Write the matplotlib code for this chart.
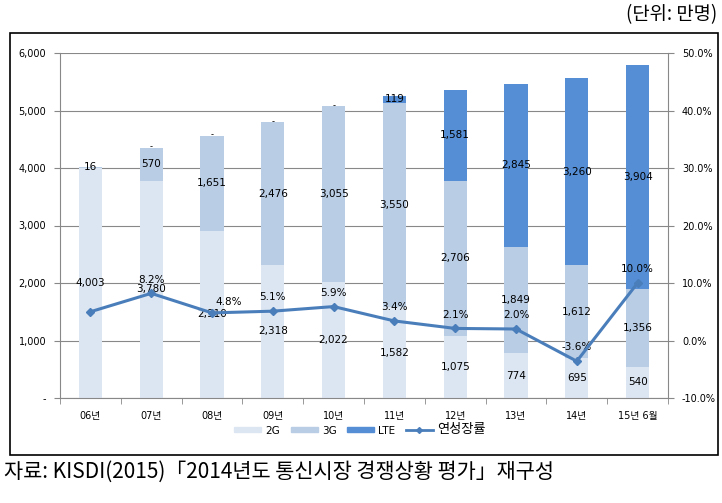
import matplotlib.pyplot as plt
from matplotlib.patches import Rectangle
from matplotlib.lines import Line2D
import numpy as np

plt.rcParams['font.family'] = ['DejaVu Sans', 'Noto Sans CJK KR']

# data (만명)
categories = ["06년", "07년", "08년", "09년", "10년", "11년", "12년", "13년", "14년", "15년 6월"]
g2 = [4003, 3780, 2910, 2318, 2022, 1582, 1075, 774, 695, 540]
g3 = [16, 570, 1651, 2476, 3055, 3550, 2706, 1849, 1612, 1356]
lte = [0, 0, 0, 0, 0, 119, 1581, 2845, 3260, 3904]
growth = [5.0, 8.2, 4.8, 5.1, 5.9, 3.4, 2.1, 2.0, -3.6, 10.0]

c2g = "#DCE6F2"
c3g = "#B9CDE5"
clte = "#558ED5"
cline = "#4A7EBB"

fig = plt.figure(figsize=(7.22, 5.03), dpi=100)

# outer chart box
fig.patches.append(Rectangle((10 / 722, 1 - 455 / 503), 708 / 722, 422 / 503,
                             transform=fig.transFigure, fill=False,
                             edgecolor="black", linewidth=1.2))

ax = fig.add_axes([60 / 722, 1 - 398 / 503, 608 / 722, 345 / 503])
x = np.arange(len(categories))
w = 0.38
ax.bar(x, g2, w, color=c2g, zorder=2)
ax.bar(x, g3, w, bottom=g2, color=c3g, zorder=2)
base = np.array(g2) + np.array(g3)
ax.bar(x, lte, w, bottom=base, color=clte, zorder=2)

ax.set_xlim(-0.5, len(categories) - 0.5)
ax.set_ylim(0, 6000)
ax.set_yticks(range(0, 6001, 1000))
ax.set_yticklabels(["-"] + [f"{v:,}" for v in range(1000, 6001, 1000)])
ax.yaxis.grid(True, color="#888888", linewidth=0.8, zorder=0)
ax.set_axisbelow(True)
ax.set_xticks(x)
ax.set_xticklabels(categories)
ax.set_xticks(np.arange(-0.5, len(categories)), minor=True)
ax.tick_params(axis="x", which="major", length=0, labelsize=7, pad=9)
ax.tick_params(axis="x", which="minor", length=4, color="#888888")
ax.tick_params(axis="y", length=4, color="#888888", labelsize=7, pad=6)
for s in ["top", "right"]:
    ax.spines[s].set_visible(False)
ax.spines["left"].set_color("#888888")
ax.spines["bottom"].set_color("#888888")

# segment labels
for i in range(len(categories)):
    ax.text(x[i], g2[i] / 2, f"{g2[i]:,}", ha="center", va="center", fontsize=7.5, zorder=4)
    ax.text(x[i], g2[i] + g3[i] / 2, f"{g3[i]:,}", ha="center", va="center", fontsize=7.5, zorder=4)
    if lte[i] > 0:
        ax.text(x[i], base[i] + lte[i] / 2, f"{lte[i]:,}", ha="center", va="center", fontsize=7.5, zorder=4)
    elif i > 0:
        ax.text(x[i], base[i] + 15, "-", ha="center", va="center", fontsize=6, zorder=4)

ax2 = ax.twinx()
ax2.set_ylim(-10, 50)
ax2.set_yticks(range(-10, 51, 10))
ax2.set_yticklabels([f"{v:.1f}%" for v in range(-10, 51, 10)])
ax2.tick_params(axis="y", length=4, color="#888888", labelsize=7, pad=6)
for s in ["top", "left", "bottom"]:
    ax2.spines[s].set_visible(False)
ax2.spines["right"].set_color("#888888")
ax2.plot(x, growth, color=cline, linewidth=2.2, marker="D", markersize=4, zorder=5)
for i in range(1, len(categories)):
    if i == 2:
        ax2.text(x[i] + 0.27, growth[i] + 1.9, f"{growth[i]:.1f}%", ha="center", va="center", fontsize=7.5)
    else:
        ax2.text(x[i], growth[i] + 2.4, f"{growth[i]:.1f}%", ha="center", va="center", fontsize=7.5)

handles = [Rectangle((0, 0), 1, 1, color=c2g), Rectangle((0, 0), 1, 1, color=c3g),
           Rectangle((0, 0), 1, 1, color=clte),
           Line2D([0], [0], color=cline, linewidth=2, marker="D", markersize=3)]
leg = fig.legend(handles, ["2G", "3G", "LTE", "연성장률"], loc="center",
                 bbox_to_anchor=(360 / 722, 1 - 430 / 503), ncol=4, frameon=False,
                 fontsize=7.5, handlelength=2.6, handleheight=0.4, columnspacing=1.0,
                 handletextpad=0.4)
leg.get_texts()[3].set_fontsize(9.5)

fig.text(717 / 722, 1 - 15 / 503, "(단위: 만명)", ha="right", va="center", fontsize=13.5,
         family=["Noto Sans CJK KR", "DejaVu Sans"])
fig.text(0.005, 1 - 472 / 503, "자료: KISDI(2015)「2014년도 통신시장 경쟁상황 평가」재구성", ha="left",
         va="center", fontsize=15, family=["Noto Sans CJK KR", "DejaVu Sans"])

fig.savefig("out.png", dpi=100)
